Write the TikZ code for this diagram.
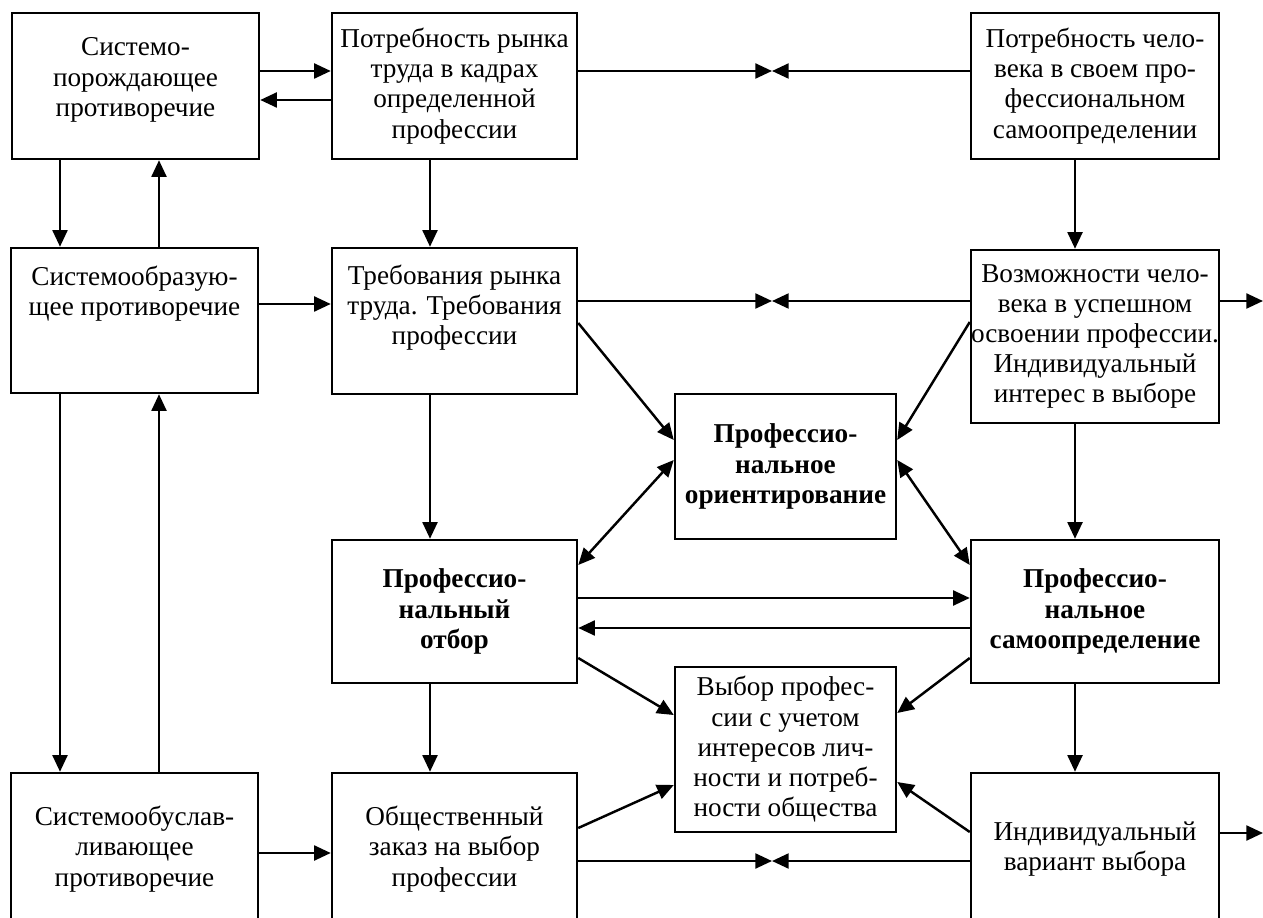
\documentclass[tikz,border=0pt]{standalone}
\usepackage{fontspec}
\setmainfont{Liberation Serif}
\usetikzlibrary{arrows.meta}

\tikzset{
  % rectangle given by its left, top, right and bottom edges
  rect/.style n args={4}{minimum width={(#3-#1)*0.02cm}, minimum height={(#4-#2)*0.02cm},
    at={({(#1+#3)/2},{(#2+#4)/2})}},
  % raise the text inside its frame by extra depth below the last line
  raise/.style={text depth={0.12cm+#1*0.04cm}},
  box/.style={draw, line width=1.4pt, inner sep=0pt, align=center,
    font=\fontsize{15.5}{17.2}\selectfont},
  boldbox/.style={box, font=\fontsize{15.5}{17.2}\selectfont\bfseries},
  tip/.tip={Triangle[length=9.5pt,width=8.5pt]},
  arr/.style={line width=1.4pt, -tip},
  dblarr/.style={line width=1.4pt, tip-tip}
}

\begin{document}
\begin{tikzpicture}[x=0.02cm, y=-0.02cm]
\useasboundingbox (0,0) rectangle (1263,918);
\clip (0,0) rectangle (1263,918);

% helper levels for connector ends
\foreach \v in {71,100,301,304,322,323,440,460,565,598,628,658,713,715,782,785,828,832,833,853,861}
  \coordinate (y\v) at (0,\v);
\foreach \v in {60,159,430,1075}
  \coordinate (x\v) at (\v,0);
\coordinate (edgeR) at (1263,0);

% first row
\node[box, raise=6, rect={12}{13}{259}{159}] (a1) {Системо-\\порождающее\\противоречие};
\node[box, rect={332}{13}{577}{159}] (b1) {Потребность рынка\\труда в кадрах\\определенной\\профессии};
\node[box, rect={971}{13}{1219}{159}] (c1) {Потребность чело-\\века в своем про-\\фессиональном\\самоопределении};

% second row
\node[box, raise=27, rect={11}{248}{258}{393}] (a2) {Системообразую-\\щее противоречие};
\node[box, raise=13, rect={332}{248}{577}{394}] (b2) {Требования рынка\\труда. Требования\\профессии};
\node[box, rect={971}{250}{1219}{423}] (c2) {Возможности чело-\\века в успешном\\освоении профессии.\\Индивидуальный\\интерес в выборе};

% middle
\node[boldbox, rect={675}{394}{896}{539}] (d) {Профессио-\\нальное\\ориентирование};
\node[boldbox, rect={332}{540}{577}{683}] (b3) {Профессио-\\нальный\\отбор};
\node[boldbox, rect={971}{540}{1219}{683}] (c3) {Профессио-\\нальное\\самоопределение};
\node[box, rect={675}{667}{896}{832}] (e) {Выбор профес-\\сии с учетом\\интересов лич-\\ности и потреб-\\ности общества};

% bottom row (runs past the lower edge)
\node[box, rect={11}{773}{258}{925}] (a3) {Системообуслав-\\ливающее\\противоречие};
\node[box, rect={332}{773}{577}{925}] (b4) {Общественный\\заказ на выбор\\профессии};
\node[box, rect={971}{773}{1219}{925}] (c4) {Индивидуальный\\вариант выбора};

% meeting points of opposing arrows
\coordinate (j1) at (772,71);
\coordinate (j2) at (772,301);
\coordinate (j3) at (772,861);

% horizontal links, top row
\draw[arr] (a1.east |- y71) -- (b1.west |- y71);
\draw[arr] (b1.west |- y100) -- (a1.east |- y100);
\draw[arr] (b1.east |- j1) -- (j1);
\draw[arr] (c1.west |- j1) -- (j1);

% vertical links
\draw[arr] (a1.south -| x60) -- (a2.north -| x60);
\draw[arr] (a2.north -| x159) -- (a1.south -| x159);
\draw[arr] (b1.south -| x430) -- (b2.north -| x430);
\draw[arr] (c1.south -| x1075) -- (c2.north -| x1075);
\draw[arr] (a2.south -| x60) -- (a3.north -| x60);
\draw[arr] (a3.north -| x159) -- (a2.south -| x159);
\draw[arr] (b2.south -| x430) -- (b3.north -| x430);
\draw[arr] (c2.south -| x1075) -- (c3.north -| x1075);
\draw[arr] (b3.south -| x430) -- (b4.north -| x430);
\draw[arr] (c3.south -| x1075) -- (c4.north -| x1075);

% second row
\draw[arr] (a2.east |- y304) -- (b2.west |- y304);
\draw[arr] (b2.east |- j2) -- (j2);
\draw[arr] (c2.west |- j2) -- (j2);
\coordinate (outA) at (edgeR |- y301);
\draw[arr] (c2.east |- y301) -- (outA);

% toward the orientation box
\draw[arr] (b2.east |- y323) -- (d.west |- y440);
\draw[arr] (c2.west |- y322) -- (d.east |- y440);
\draw[dblarr] (d.west |- y460) -- (b3.east |- y565);
\draw[dblarr] (d.east |- y460) -- (c3.west |- y565);

% selection and self-determination
\draw[arr] (b3.east |- y598) -- (c3.west |- y598);
\draw[arr] (c3.west |- y628) -- (b3.east |- y628);
\draw[arr] (b3.east |- y658) -- (e.west |- y715);
\draw[arr] (c3.west |- y658) -- (e.east |- y713);

% bottom row
\draw[arr] (a3.east |- y853) -- (b4.west |- y853);
\draw[arr] (b4.east |- y828) -- (e.west |- y785);
\draw[arr] (c4.west |- y832) -- (e.east |- y782);
\draw[arr] (b4.east |- j3) -- (j3);
\draw[arr] (c4.west |- j3) -- (j3);
\coordinate (outB) at (edgeR |- y833);
\draw[arr] (c4.east |- y833) -- (outB);
\end{tikzpicture}
\end{document}
